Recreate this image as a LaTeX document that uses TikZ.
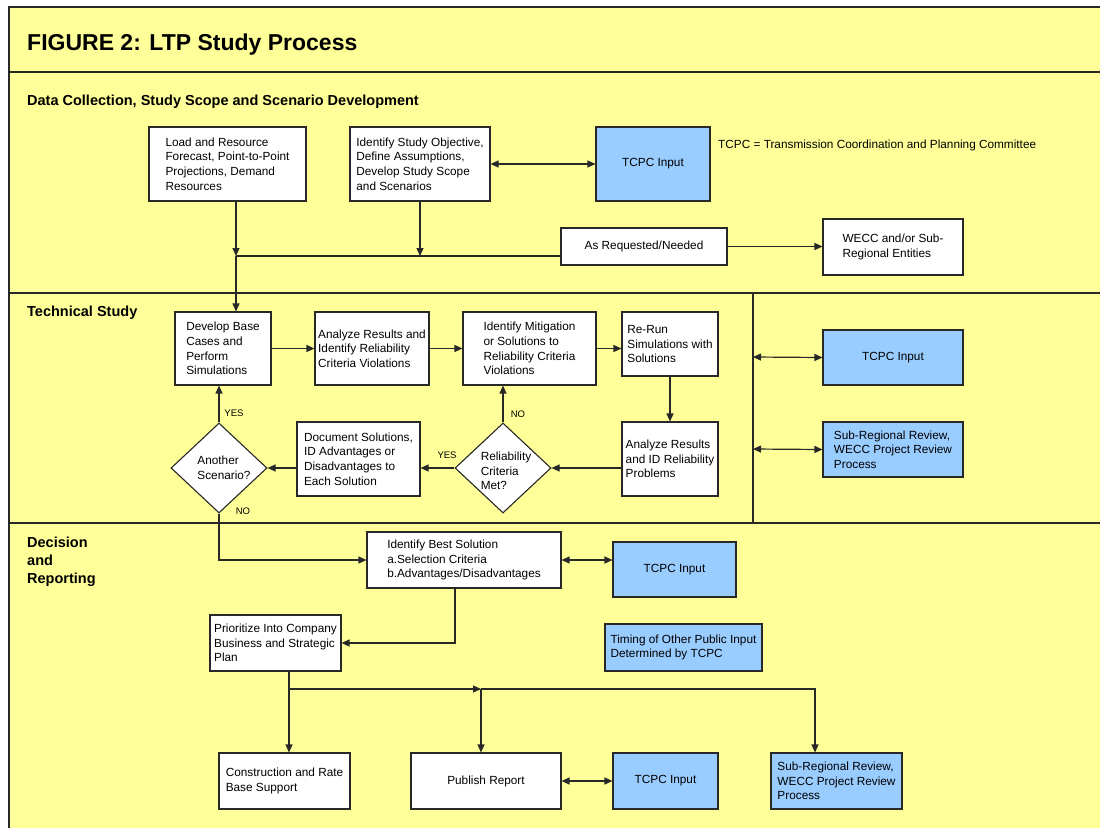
\documentclass[tikz,border=0pt]{standalone}
\usepackage{fontspec}
\setmainfont{Liberation Sans}
\usetikzlibrary{arrows.meta,shapes.geometric,calc}
\definecolor{bgyellow}{RGB}{255,255,153}
\definecolor{inblue}{RGB}{153,204,255}
\definecolor{lncol}{RGB}{40,40,40}
\begin{document}
\begin{tikzpicture}[x=1pt,y=-1pt,
  txt/.style={font=\fontsize{11.8}{14.7}\selectfont,align=left,inner sep=0pt},
  box/.style={draw=lncol,line width=1.1pt,fill=white,align=left,inner sep=2pt,font=\fontsize{11.8}{14.7}\selectfont},
  bluebox/.style={box,fill=inblue},
  sz/.style 2 args={minimum width=#1pt,minimum height=#2pt},
  arr/.style={draw=lncol,line width=1.2pt,-{Triangle[length=8pt,width=7pt]}},
  darr/.style={draw=lncol,line width=1.2pt,{Triangle[length=8pt,width=7pt]}-{Triangle[length=8pt,width=7pt]}},
  ln/.style={draw=lncol,line width=1.2pt},
  sep/.style={draw=lncol,line width=1.4pt},
  head/.style={font=\fontsize{14.5}{18}\selectfont\bfseries,anchor=base west,inner sep=0pt},
  yn/.style={font=\fontsize{9.5}{11}\selectfont,inner sep=0pt},
  dia/.style={draw=lncol,line width=1.1pt,fill=white,diamond,minimum width=96pt,minimum height=90pt,inner sep=0pt},
]
\useasboundingbox (0,0) rectangle (1100,828);
\fill[white] (0,0) rectangle (1100,828);
\fill[bgyellow] (9,7) rectangle (1100,828);
\draw[lncol,line width=2pt] (9,828) -- (9,7) -- (1100,7);
\draw[sep] (9,72) -- (1100,72);
\draw[sep] (9,293) -- (1100,293);
\draw[sep] (9,523) -- (1100,523);
\draw[sep] (753,293) -- (753,523);

% headings
\node[head,font=\fontsize{23}{28}\selectfont\bfseries] (title) at (27,50) {FIGURE 2: LTP Study Process};
\node[head] (h1) at (27,105) {Data Collection, Study Scope and Scenario Development};
\node[head] (h2) at (27,316) {Technical Study};
\node[head] (h3a) at (27,547) {Decision};
\node[head] (h3b) at (27,565) {and};
\node[head] (h3c) at (27,583) {Reporting};

% data collection
\node[box,sz={157}{74}] (load) at (227.5,164) {Load and Resource\\Forecast, Point-to-Point\\Projections, Demand\\Resources};
\node[box,sz={140}{74}] (ident) at (420,164) {Identify Study Objective,\\Define Assumptions,\\Develop Study Scope\\and Scenarios};
\node[bluebox,sz={114}{74}] (tcpc1) at (653,164) {TCPC Input};
\node[txt,anchor=base west] (note) at (718,148) {TCPC = Transmission Coordination and Planning Committee};
\node[box,sz={166}{37}] (asreq) at (644,246.5) {As Requested/Needed};
\node[box,sz={140}{56}] (wecc) at (893,247) {WECC and/or Sub-\\Regional Entities};

% technical study
\node[box,sz={96}{73}] (dev) at (223,348.5) {Develop Base\\Cases and\\Perform\\Simulations};
\node[box,sz={114}{73}] (ana) at (372,348.5) {Analyze Results and\\Identify Reliability\\Criteria Violations};
\node[box,sz={133}{73}] (mit) at (529.5,348.5) {Identify Mitigation\\or Solutions to\\Reliability Criteria\\Violations};
\node[box,sz={96}{64}] (rerun) at (670,344) {Re-Run\\Simulations with\\Solutions};
\node[box,sz={96}{74}] (anaid) at (670,459) {Analyze Results\\and ID Reliability\\Problems};
\node[dia] (rel) at (503,468) {};
\node[txt] (relt) at (506,471) {Reliability\\Criteria\\Met?};
\node[box,sz={123}{74}] (doc) at (358.5,459) {Document Solutions,\\ID Advantages or\\Disadvantages to\\Each Solution};
\node[dia] (another) at (219,468) {};
\node[txt] (anothert) at (224,467.5) {Another\\Scenario?};
\node[bluebox,sz={140}{55}] (tcpc2) at (893,357.5) {TCPC Input};
\node[bluebox,sz={140}{55}] (subreg1) at (893,449.5) {Sub-Regional Review,\\WECC Project Review\\Process};
\node[yn] (yes1) at (234,413) {YES};
\node[yn] (no1) at (518,414) {NO};
\node[yn] (yes2) at (447,455) {YES};
\node[yn] (no2) at (243,511) {NO};

% decision
\node[box,sz={194}{56}] (best) at (464,560) {Identify Best Solution\\a.Selection Criteria\\b.Advantages/Disadvantages};
\node[bluebox,sz={123}{55}] (tcpc3) at (674.5,569.5) {TCPC Input};
\node[bluebox,sz={157}{47}] (timing) at (683.5,647.5) {Timing of Other Public Input\\Determined by TCPC};
\node[box,sz={131}{56}] (prio) at (275.5,643) {Prioritize Into Company\\Business and Strategic\\Plan};
\node[box,sz={131}{56}] (constr) at (284.5,781) {Construction and Rate\\Base Support};
\node[box,sz={150}{56}] (publish) at (486,781) {Publish Report};
\node[bluebox,sz={105}{56}] (tcpc4) at (665.5,781) {TCPC Input};
\node[bluebox,sz={131}{56}] (subreg2) at (836.5,781) {Sub-Regional Review,\\WECC Project Review\\Process};

% coordinates
\coordinate (j1) at (236,256);
\coordinate (vl1) at (753,357);
\coordinate (vl2) at (753,449);
\coordinate (b1) at (455,643);
\coordinate (p1) at (289,689);
\coordinate (p2) at (481,689);
\coordinate (p3) at (815,689);

% connectors: data collection
\draw[arr] (load.south -| j1) -- (j1);
\draw[arr] (ident.south) -- (ident.south |- j1);
\draw[ln] (j1) -- (j1 -| asreq.west);
\draw[arr] (j1) -- (j1 |- dev.north);
\draw[arr] (asreq.east) -- (asreq.east -| wecc.west);
\draw[darr] (ident.east) -- (tcpc1.west);

% technical study
\draw[arr] (dev.east) -- (ana.west);
\draw[arr] (ana.east) -- (mit.west);
\draw[arr] (mit.east) -- (mit.east -| rerun.west);
\draw[arr] (rerun.south) -- (anaid.north);
\draw[arr] (anaid.west |- rel.east) -- (rel.east);
\draw[arr] (rel.north) -- (rel.north |- mit.south);
\draw[arr] (rel.west) -- (rel.west -| doc.east);
\draw[arr] (doc.west |- another.east) -- (another.east);
\draw[arr] (another.north) -- (another.north |- dev.south);
\draw[arr] (another.south) |- (best.west);
\draw[darr] (vl1) -- (tcpc2.west);
\draw[darr] (vl2) -- (subreg1.west);

% decision
\draw[darr] (best.east) -- (best.east -| tcpc3.west);
\draw[arr] (best.south -| b1) |- (prio.east);
\draw[arr] (prio.south -| p1) -- (p1 |- constr.north);
\draw[arr] (p1) -- (p2);
\draw[arr] (p2) -- (p2 |- publish.north);
\draw[arr] (p2) -- (p3) -- (p3 |- subreg2.north);
\draw[darr] (publish.east) -- (tcpc4.west);
\end{tikzpicture}
\end{document}
